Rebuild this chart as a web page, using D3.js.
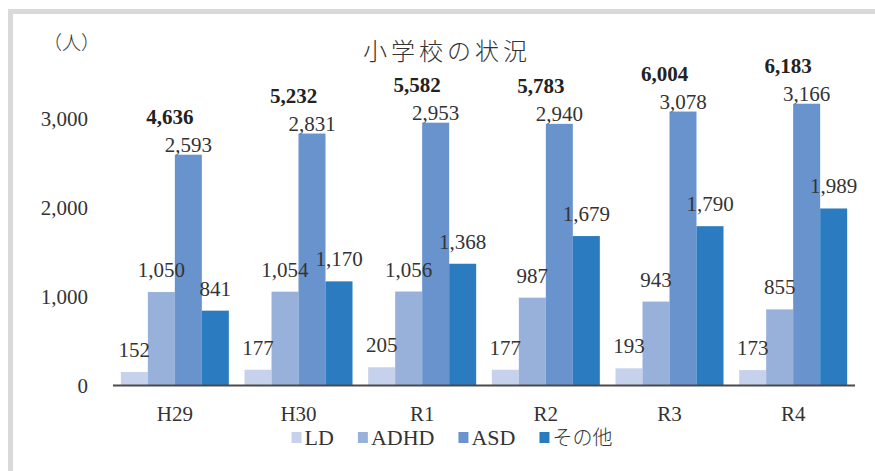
<!DOCTYPE html>
<html>
<head>
<meta charset="utf-8">
<script src="https://cdn.jsdelivr.net/npm/d3@7"></script>
<style>
body{margin:0;background:#fff;}
svg text{font-family:"Liberation Serif","DejaVu Serif",serif;fill:#333;}
svg text.jp{font-family:"Noto Sans CJK JP",sans-serif;font-weight:300;}
svg text.total{font-weight:bold;fill:#222;}
</style>
</head>
<body>
<div class="viz"></div>
<script>
var years=["H29","H30","R1","R2","R3","R4"];
var series=["LD","ADHD","ASD","その他"];
var ld=[152,177,205,177,193,173];
var adhd=[1050,1054,1056,987,943,855];
var asd=[2593,2831,2953,2940,3078,3166];
var other=[841,1170,1368,1679,1790,1989];
var totals=[4636,5232,5582,5783,6004,6183];
var yTicks=[0,1000,2000,3000];
var colors=["#c6d2eb","#98b1db","#6893cd","#2a7bc0"];

var values=[ld,adhd,asd,other];

var svg=d3.select(".viz").append("svg").attr("width",875).attr("height",471);

// frame
svg.append("rect").attr("x",10.5).attr("y",11.5).attr("width",900).attr("height",500)
	.style("fill","none").style("stroke","#d9d9d9").style("stroke-width",5);

var x0=d3.scaleBand().domain(years).range([113,855]).padding(0);
var x1=d3.scaleBand().domain(series).range([0,x0.bandwidth()]).paddingInner(0).paddingOuter(0.29);
var y=d3.scaleLinear().domain([0,3000]).range([385.5,118.5]);

// y labels
var yaxis=d3.axisLeft(y).tickValues(yTicks).tickSize(0).tickPadding(0).tickFormat(d3.format(","));
var ga=svg.append("g").attr("transform","translate(88,0)").call(yaxis);
ga.attr("font-family",null);
ga.select(".domain").remove();
ga.selectAll("text").style("font-size","21px").attr("fill","#333");

// bars
series.forEach(function(s,i){
	svg.append("g").selectAll("rect").data(values[i]).enter().append("rect")
		.attr("x",function(d,j){return x0(years[j])+x1(s);})
		.attr("y",function(d){return y(d);})
		.attr("width",x1.bandwidth())
		.attr("height",function(d){return y(0)-y(d);})
		.style("fill",colors[i]);
});
// value labels
series.forEach(function(s,i){
	var off=(s=="ASD")?3:15;
	svg.append("g").selectAll("text").data(values[i]).enter().append("text")
		.attr("x",function(d,j){return x0(years[j])+x1(s)+x1.bandwidth()/2;})
		.attr("y",function(d){return y(d)-off;})
		.attr("text-anchor","middle")
		.style("font-size","21px")
		.text(function(d){return d3.format(",")(d);});
});

// totals
svg.append("g").selectAll("text").data(totals).enter().append("text")
	.attr("class","total")
	.attr("x",function(d,j){return x0(years[j])+x0.bandwidth()/2-5;})
	.attr("y",function(d,j){return y(asd[j])-31;})
	.attr("text-anchor","middle")
	.style("font-size","21px")
	.text(function(d){return d3.format(",")(d);});

// x axis line
svg.append("line").attr("x1",113).attr("x2",855).attr("y1",y(0)).attr("y2",y(0))
	.style("stroke","#4a4a4a").style("stroke-width",1.8);

svg.append("g").selectAll("text").data(years).enter().append("text")
	.attr("x",function(d){return x0(d)+x0.bandwidth()/2;})
	.attr("y",421)
	.attr("text-anchor","middle")
	.style("font-size","21px")
	.text(function(d){return d;});

// title
svg.append("text").attr("class","jp").attr("x",447).attr("y",60).attr("text-anchor","middle")
	.style("font-size","24px").style("letter-spacing","4px").text("小学校の状況");
svg.append("text").attr("class","jp").attr("x",43).attr("y",50)
	.style("font-size","19px").text("（人）");

// legend
var leg=svg.append("g");
var lx=0;
series.forEach(function(s,i){
	var g=leg.append("g").attr("transform","translate("+lx+",0)");
	g.append("rect").attr("x",0).attr("y",432).attr("width",10).attr("height",11).style("fill",colors[i]);
	var t=g.append("text").attr("x",13).attr("y",445).style("font-size","22px").text(s);
	if(s=="その他") t.attr("class","jp").style("font-size","20px");
	lx+=13+t.node().getComputedTextLength()+24;
});
var lw=lx-24;
leg.attr("transform","translate("+(452-lw/2)+",0)");
</script>
</body>
</html>
